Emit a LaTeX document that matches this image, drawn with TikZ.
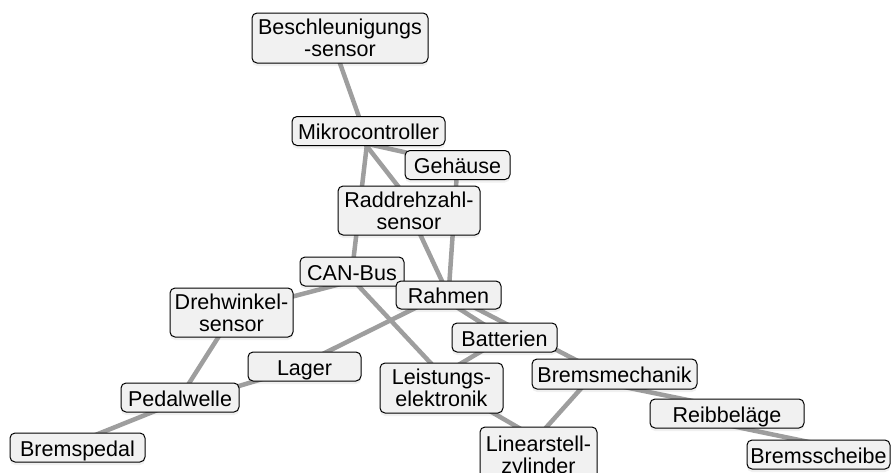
\documentclass[tikz,border=0pt]{standalone}
\usepackage{fontspec}
\setmainfont{Liberation Sans}
\usetikzlibrary{shadows,calc}
\pgfdeclarelayer{links}
\pgfsetlayers{links,main}
\definecolor{boxfill}{RGB}{241,241,241}
\definecolor{linkgray}{RGB}{158,158,158}
\tikzset{
  part/.style={draw=black, line width=1pt, fill=boxfill, rounded corners=5pt,
    align=center, inner sep=2pt, font=\fontsize{21.5}{22}\selectfont,
    drop shadow={shadow xshift=0pt, shadow yshift=-3pt, opacity=0.12}},
  oneline/.style={part, minimum height=29pt, text height=17pt, text depth=0pt},
  twoline/.style={part, minimum height=50pt},
  link/.style={draw=linkgray, line width=4.5pt},
}
\begin{document}
\begin{tikzpicture}[x=1pt,y=-1pt]
\useasboundingbox (0,0) rectangle (892,472);

% components
\node[twoline, minimum width=176pt] (besch)  at (340,38)    {Beschleunigungs\\-sensor};
\node[oneline, minimum width=153pt] (mc)     at (368.5,131) {Mikrocontroller};
\node[oneline, minimum width=105pt] (geh)    at (457.5,165) {Gehäuse};
\node[twoline, minimum width=142pt, minimum height=49pt] (rad) at (409,210.5) {Raddrehzahl-\\sensor};
\node[oneline, minimum width=104pt] (can)    at (352,271.5) {CAN-Bus};
\node[oneline, minimum width=105pt, minimum height=28pt] (rah) at (448.5,295) {Rahmen};
\node[twoline, minimum width=123pt, minimum height=49pt] (dreh) at (231.5,312.5) {Drehwinkel-\\sensor};
\node[oneline, minimum width=113pt] (lager)  at (304.5,366.5) {Lager};
\node[oneline, minimum width=118pt] (pedal)  at (180,397.5) {Pedalwelle};
\node[oneline, minimum width=135pt] (brped)  at (77.5,447.5) {Bremspedal};
\node[oneline, minimum width=105pt] (batt)   at (504.5,337.5) {Batterien};
\node[twoline, minimum width=123pt] (leist)  at (441.5,388) {Leistungs-\\elektronik};
\node[oneline, minimum width=165pt, minimum height=30pt] (bmech) at (614.5,374) {Bremsmechanik};
\node[oneline, minimum width=154pt] (reib)   at (727,413.5) {Reibbeläge};
\node[twoline, minimum width=117pt, minimum height=60.5pt] (lin) at (538.5,457.25) {Linearstell-\\zylinder};
\node[oneline, minimum width=143pt] (bsch)   at (818.5,454.5) {Bremsscheibe};

% connections, kept behind the boxes
\begin{pgfonlayer}{links}
\draw[link] ($(besch)+(-9,0)$) -- ($(mc)+(-4.5,0)$);
\draw[link] ($(mc)+(-0.5,13)$) -- ($(geh)+(0,-1)$);
\draw[link] (mc.center) -- (can.center);
\draw[link] ($(mc)+(-13.5,0)$) -- ($(rad)+(8,0)$);
\draw[link] (geh.center) -- (rah.center);
\draw[link] (rad.center) -- (rah.center);
\draw[link] ($(can)+(0,9.5)$) -- (dreh.center);
\draw[link] ($(can)+(-7,0)$) -- ($(leist)+(12.5,0)$);
\draw[link] ($(rah)+(-7,0)$) -- ($(lager)+(-7,0)$);
\draw[link] (lager.center) -- ($(pedal)+(0,6)$);
\draw[link] ($(dreh)+(2.5,0)$) -- (pedal.center);
\draw[link] ($(pedal)+(0,3.5)$) -- ($(brped)+(0.5,-5.5)$);
\draw[link] ($(rah)+(0,7)$) -- (batt.center);
\draw[link] ($(rah)+(0,-1)$) -- ($(bmech)+(0,6)$);
\draw[link] (batt.center) -- ($(leist)+(0,-13)$);
\draw[link] ($(leist)+(0,-5)$) -- ($(lin)+(0,-18)$);
\draw[link] ($(bmech)+(-20.5,0)$) -- ($(lin)+(-14.5,-5)$);
\draw[link] ($(bmech)+(0,11)$) -- ($(reib)+(0,-5.5)$);
\draw[link] ($(reib)+(0,11.5)$) -- ($(bsch)+(0,-10.5)$);
\end{pgfonlayer}
\end{tikzpicture}
\end{document}
